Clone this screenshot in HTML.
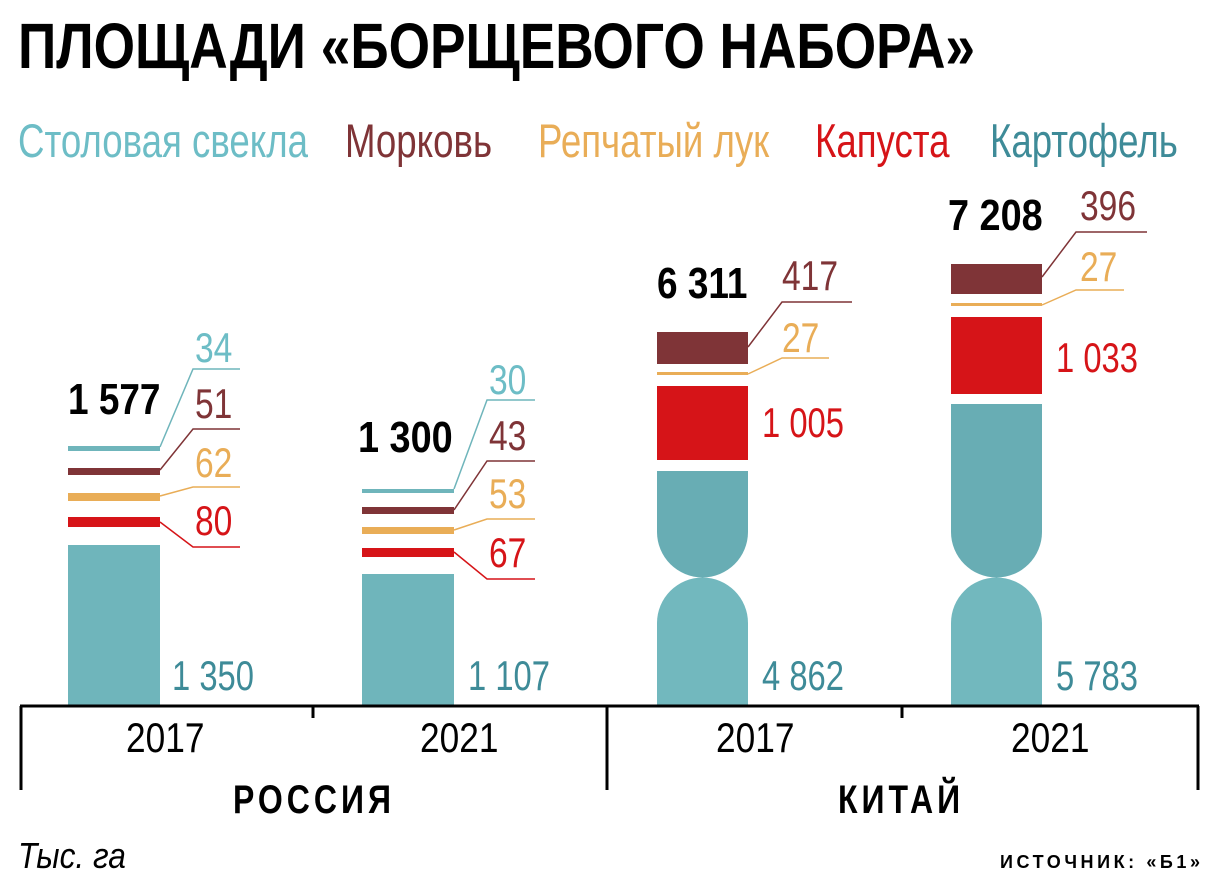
<!DOCTYPE html>
<html><head><meta charset="utf-8"><style>
html,body{margin:0;padding:0;background:#fff;}
svg{display:block;font-family:"Liberation Sans",sans-serif;}
</style></head><body>
<svg width="1215" height="892" viewBox="0 0 1215 892" xmlns="http://www.w3.org/2000/svg">
<text x="18" y="68" font-size="64" font-weight="bold" textLength="957" lengthAdjust="spacingAndGlyphs" fill="#000">ПЛОЩАДИ «БОРЩЕВОГО НАБОРА»</text>
<g font-size="47">
<text transform="translate(18 157) scale(0.78 1)" fill="#6dbdc6">Столовая свекла</text>
<text transform="translate(345 157) scale(0.78 1)" fill="#7f3437">Морковь</text>
<text transform="translate(538 157) scale(0.78 1)" fill="#e9ad57">Репчатый лук</text>
<text transform="translate(815 157) scale(0.78 1)" fill="#d61418">Капуста</text>
<text transform="translate(990 157) scale(0.78 1)" fill="#3e8b98">Картофель</text>
</g>
<rect x="68" y="545" width="92" height="161" fill="#6fb5bb"/>
<rect x="68" y="446" width="92" height="5" fill="#6fb5bb"/>
<rect x="68" y="468" width="92" height="7" fill="#7f3437"/>
<rect x="68" y="493" width="92" height="8" fill="#e9ad57"/>
<rect x="68" y="517" width="92" height="10" fill="#d61418"/>
<g fill="none" stroke-width="1.5">
<polyline points="160,447 193,369 240,369" stroke="#6fb5bb"/>
<polyline points="160,470 193,429 240,429" stroke="#7f3437"/>
<polyline points="160,496 193,487 240,487" stroke="#e9ad57"/>
<polyline points="160,522 193,547 240,547" stroke="#d61418"/>
<polyline points="454,489 487,400 535,400" stroke="#6fb5bb"/>
<polyline points="454,510 487,461 535,461" stroke="#7f3437"/>
<polyline points="454,530 487,519 535,519" stroke="#e9ad57"/>
<polyline points="454,552 487,579 535,579" stroke="#d61418"/>
<polyline points="748,347 782,302 852,302" stroke="#7f3437"/>
<polyline points="748,374 782,358 829,358" stroke="#e9ad57"/>
<polyline points="1042,277 1076,232 1147,232" stroke="#7f3437"/>
<polyline points="1042,305 1076,290 1124,290" stroke="#e9ad57"/>
</g>
<g font-size="42">
<text transform="translate(195 362) scale(0.8 1)" fill="#6dbdc6">34</text>
<text transform="translate(195 418) scale(0.8 1)" fill="#7f3437">51</text>
<text transform="translate(195 477) scale(0.8 1)" fill="#e9ad57">62</text>
<text transform="translate(195 535) scale(0.8 1)" fill="#d61418">80</text>
<text transform="translate(489 394) scale(0.8 1)" fill="#6dbdc6">30</text>
<text transform="translate(489 450) scale(0.8 1)" fill="#7f3437">43</text>
<text transform="translate(489 508) scale(0.8 1)" fill="#e9ad57">53</text>
<text transform="translate(489 567) scale(0.8 1)" fill="#d61418">67</text>
<text transform="translate(172 690) scale(0.78 1)" fill="#3e8b98">1 350</text>
<text transform="translate(468 690) scale(0.78 1)" fill="#3e8b98">1 107</text>
<text transform="translate(782 290) scale(0.8 1)" fill="#7f3437">417</text>
<text transform="translate(782 352) scale(0.8 1)" fill="#e9ad57">27</text>
<text transform="translate(762 437) scale(0.78 1)" fill="#d61418">1 005</text>
<text transform="translate(762 690) scale(0.78 1)" fill="#3e8b98">4 862</text>
<text transform="translate(1080 220) scale(0.8 1)" fill="#7f3437">396</text>
<text transform="translate(1080 281) scale(0.8 1)" fill="#e9ad57">27</text>
<text transform="translate(1056 372) scale(0.78 1)" fill="#d61418">1 033</text>
<text transform="translate(1056 690) scale(0.78 1)" fill="#3e8b98">5 783</text>
</g>
<g font-size="44" font-weight="bold" fill="#000">
<text transform="translate(68 414) scale(0.84 1)">1 577</text>
<text transform="translate(358 452) scale(0.86 1)">1 300</text>
<text transform="translate(657 298) scale(0.84 1)">6 311</text>
<text transform="translate(948 230) scale(0.86 1)">7 208</text>
</g>
<rect x="362" y="574" width="92" height="132" fill="#6fb5bb"/>
<rect x="362" y="489" width="92" height="4" fill="#6fb5bb"/>
<rect x="362" y="507" width="92" height="7" fill="#7f3437"/>
<rect x="362" y="527" width="92" height="7" fill="#e9ad57"/>
<rect x="362" y="548" width="92" height="9" fill="#d61418"/>
<rect x="657" y="332" width="91" height="32" fill="#7f3437"/>
<rect x="657" y="372" width="91" height="3" fill="#e9ad57"/>
<rect x="657" y="386" width="91" height="74" fill="#d61418"/>
<path d="M657,471 H748 V532 A45.5,45.5 0 0 1 657,532 Z" fill="#68adb4"/>
<path d="M657,623 A45.5,45.5 0 0 1 748,623 V706 H657 Z" fill="#72b8be"/>
<rect x="951" y="264" width="91" height="30" fill="#7f3437"/>
<rect x="951" y="303" width="91" height="3" fill="#e9ad57"/>
<rect x="951" y="317" width="91" height="77" fill="#d61418"/>
<path d="M951,404 H1042 V532 A45.5,45.5 0 0 1 951,532 Z" fill="#68adb4"/>
<path d="M951,623 A45.5,45.5 0 0 1 1042,623 V706 H951 Z" fill="#72b8be"/>
<g stroke="#000" stroke-width="3">
<line x1="20" y1="706" x2="1199" y2="706"/>
<line x1="21" y1="706" x2="21" y2="790"/>
<line x1="607" y1="706" x2="607" y2="790"/>
<line x1="1198" y1="706" x2="1198" y2="790"/>
<line x1="313" y1="706" x2="313" y2="718"/>
<line x1="902" y1="706" x2="902" y2="718"/>
</g>
<g font-size="42" fill="#000">
<text transform="translate(126 752) scale(0.84 1)">2017</text>
<text transform="translate(420 752) scale(0.84 1)">2021</text>
<text transform="translate(716 752) scale(0.84 1)">2017</text>
<text transform="translate(1011 752) scale(0.84 1)">2021</text>
</g>
<g font-size="40" font-weight="bold" fill="#000" letter-spacing="5">
<text transform="translate(233 813) scale(0.8 1)">РОССИЯ</text>
<text transform="translate(838 813) scale(0.8 1)">КИТАЙ</text>
</g>
<text transform="translate(18 868) scale(0.88 1)" font-size="36" font-style="italic" fill="#000">Тыс. га</text>
<text x="1000" y="868" font-size="18" font-weight="bold" fill="#000" textLength="200" lengthAdjust="spacing">ИСТОЧНИК: «Б1»</text>
</svg>
</body></html>
